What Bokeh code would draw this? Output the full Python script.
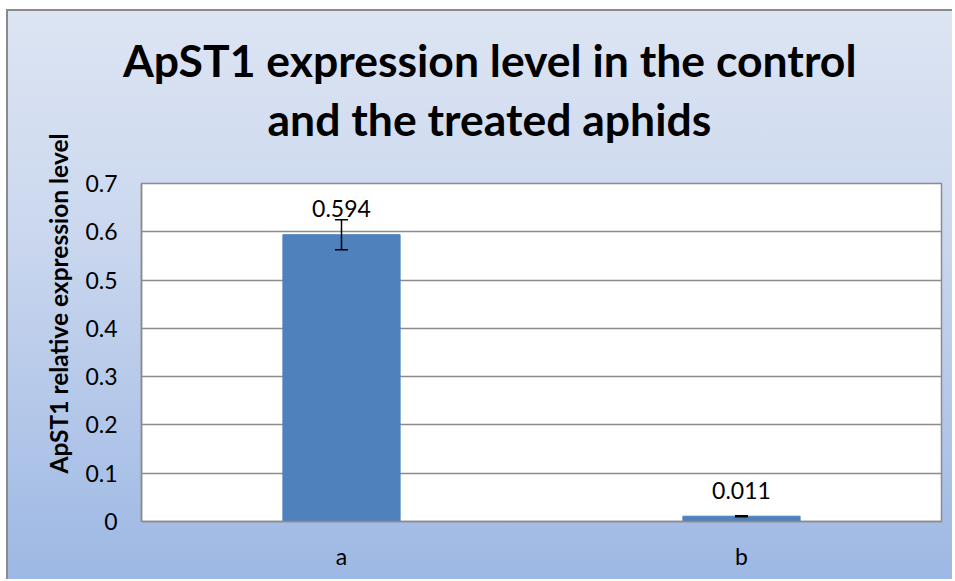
from bokeh.plotting import figure
from bokeh.models import (ColumnDataSource, FactorRange, Range1d, FixedTicker,
                          PrintfTickFormatter, Whisker, TeeHead, LabelSet, Title)
from bokeh.core.properties import value
from bokeh.embed import file_html
from bokeh.resources import INLINE

# ---- data ----
categories = ["a", "b"]
values = [0.594, 0.011]
errors = [0.031, 0.001]
value_labels = ["0.594", "0.011"]
y_ticks = [0, 0.1, 0.2, 0.3, 0.4, 0.5, 0.6, 0.7]
title_lines = ["ApST1 expression level in the control", "and the treated aphids"]
y_title = "ApST1 relative expression level"

FONT = "Lato"
GRID = "#8c8c8c"

src = ColumnDataSource(dict(
    cat=categories,
    val=values,
    upper=[v + e for v, e in zip(values, errors)],
    lower=[v - e for v, e in zip(values, errors)],
    lab=value_labels,
))

p = figure(x_range=FactorRange(*categories, range_padding=0),
           y_range=Range1d(0, 0.7),
           width=946, height=570,
           output_backend="svg", toolbar_location=None,
           min_border_left=133, min_border_right=13,
           min_border_top=172, min_border_bottom=60)

p.title.visible = False
p.border_fill_color = None
p.background_fill_color = "white"
p.outline_line_color = GRID
p.outline_line_width = 1.5
p.styles = {
    "background": "linear-gradient(to bottom, #dde5f3 0%, #cad7ee 40%, #9db8e4 100%)",
    "border-top": "2px solid #8a8a8a",
    "border-left": "2px solid #8a8a8a",
    "margin-top": "8.5px",
    "margin-left": "6px",
}

p.vbar(x="cat", top="val", width=0.293, source=src, color="#4f81bd")

p.add_layout(Whisker(source=src, base="cat", upper="upper", lower="lower",
                     level="annotation", line_color="black", line_width=1.5,
                     upper_head=TeeHead(size=13, line_color="black", line_width=1.5),
                     lower_head=TeeHead(size=13, line_color="black", line_width=1.5)))

p.add_layout(LabelSet(x="cat", y="val", text="lab", source=src,
                      text_align="center", text_baseline="middle", y_offset=26,
                      text_font=value(FONT), text_font_size="23px", text_color="black"))

# axes
p.yaxis.ticker = FixedTicker(ticks=y_ticks)
p.yaxis.formatter = PrintfTickFormatter(format="%.1f")
p.yaxis.major_label_overrides = {0: "0"}
p.yaxis.major_tick_out = 0
p.yaxis.major_tick_in = 0
p.yaxis.minor_tick_out = 0
p.yaxis.minor_tick_in = 0
p.yaxis.axis_line_color = GRID
p.yaxis.axis_line_width = 1.5
p.yaxis.major_label_standoff = 24
p.yaxis.major_label_text_font = FONT
p.yaxis.major_label_text_font_size = "23px"
p.yaxis.major_label_text_color = "black"

p.xaxis.major_tick_out = 0
p.xaxis.major_tick_in = 0
p.xaxis.axis_line_color = GRID
p.xaxis.axis_line_width = 1.5
p.xaxis.major_label_standoff = 20
p.xaxis.major_label_text_font = FONT
p.xaxis.major_label_text_font_size = "23px"
p.xaxis.major_label_text_color = "black"

p.xgrid.grid_line_color = None
p.ygrid.grid_line_color = GRID
p.ygrid.grid_line_width = 1.5

# titles: nearest the frame first (a blank spacer, then line 2, then line 1)
p.add_layout(Title(text=" ", text_font_size="1px", standoff=35), "above")
p.add_layout(Title(text=title_lines[1], align="left", offset=126, standoff=2,
                   text_font=FONT, text_font_style="bold", text_font_size="44.5px",
                   text_color="black"), "above")
p.add_layout(Title(text=title_lines[0], align="left", offset=-18.5, standoff=5,
                   text_font=FONT, text_font_style="bold", text_font_size="44.5px",
                   text_color="black"), "above")

# y-axis title
p.add_layout(Title(text=y_title, align="left", offset=48, standoff=19,
                   text_font=FONT, text_font_style="bold", text_font_size="24.5px",
                   text_color="black"), "left")

open("out.html", "w").write(file_html(p, INLINE))
